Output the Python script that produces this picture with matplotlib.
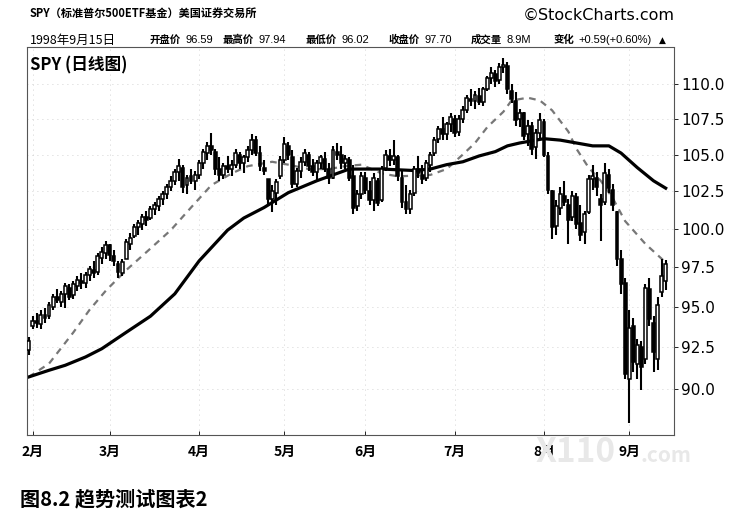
import matplotlib
matplotlib.use("Agg")
import matplotlib.pyplot as plt
from matplotlib.ticker import FixedLocator, NullLocator
import pandas as pd

plt.rcParams['font.family'] = ['Noto Sans CJK SC', 'DejaVu Sans']

# SPY 日线 1998-01-30 .. 1998-09-15
holidays = ['1998-02-16', '1998-04-10', '1998-05-25', '1998-07-03', '1998-09-07']
dates = pd.bdate_range('1998-01-30', '1998-09-15', freq='C', holidays=holidays)

opens = [92.3, 93.8, 94.1, 93.9, 94.5, 94.4, 95.0, 95.6, 95.3, 95.8,
         96.2, 95.7, 96.3, 96.6, 96.5, 97.0, 97.3, 97.2, 98.1, 98.4,
         98.9, 98.2, 97.7, 97.1, 98.0, 99.0, 99.5, 100.1, 100.3, 100.8,
         100.7, 101.3, 101.5, 102.0, 102.3, 102.8, 103.2, 103.8, 104.1, 102.9,
         103.5, 103.2, 103.6, 104.4, 105.1, 105.6, 105.2, 104.0, 103.6, 104.2,
         104.0, 104.3, 105.0, 104.4, 104.8, 105.3, 106.0, 105.1, 104.1, 103.3,
         102.0, 102.4, 103.5, 104.6, 105.6, 104.8, 103.0, 103.9, 104.5, 105.0,
         104.2, 103.8, 104.4, 104.7, 104.0, 103.4, 105.2, 105.0, 104.4, 104.6,
         103.5, 101.5, 102.3, 103.4, 102.5, 101.9, 103.2, 101.9, 104.1, 104.9,
         104.6, 104.8, 103.4, 101.8, 101.3, 102.4, 104.0, 103.6, 103.4, 104.3,
         105.1, 106.1, 106.8, 106.4, 107.1, 107.5, 106.6, 107.5, 108.1, 108.9,
         108.8, 109.1, 108.7, 109.6, 110.4, 110.7, 110.3, 111.2, 111.3, 109.5,
         108.8, 107.5, 107.9, 106.4, 107.0, 105.5, 106.5, 107.3, 104.9, 102.5,
         100.2, 101.4, 102.2, 101.6, 100.8, 102.1, 100.4, 99.8, 101.1, 103.3,
         103.4, 102.0, 101.8, 103.6, 102.6, 101.1, 98.0, 96.5, 90.6, 93.8,
         91.5, 92.5, 91.8, 96.1, 94.0, 91.8, 95.9, 96.59]
highs = [93.1, 94.4, 94.6, 94.8, 94.9, 95.3, 95.8, 96.1, 96.0, 96.5,
         96.4, 96.6, 96.9, 97.1, 97.2, 97.6, 97.9, 98.4, 98.8, 99.2,
         99.0, 98.6, 97.9, 98.0, 99.3, 99.7, 100.3, 100.6, 101.0, 101.2,
         101.5, 101.8, 102.2, 102.5, 103.0, 103.5, 104.0, 104.7, 104.3, 103.6,
         104.0, 103.9, 104.6, 105.4, 105.9, 106.5, 105.4, 104.8, 104.4, 104.9,
         104.6, 105.4, 105.2, 105.0, 105.6, 106.4, 106.3, 105.6, 104.6, 103.3,
         102.9, 103.3, 104.9, 106.2, 105.9, 105.3, 104.1, 104.8, 105.4, 105.2,
         104.7, 104.6, 105.0, 105.2, 104.4, 105.6, 105.8, 105.6, 105.0, 104.8,
         104.3, 102.6, 103.8, 103.8, 103.2, 103.7, 103.4, 104.2, 105.3, 105.4,
         106.0, 105.0, 103.9, 102.9, 102.6, 104.2, 104.9, 104.3, 104.6, 105.2,
         106.2, 107.0, 107.6, 107.3, 107.9, 107.8, 107.8, 108.4, 109.2, 109.6,
         109.5, 109.7, 109.8, 110.6, 111.2, 111.0, 111.5, 111.9, 111.6, 110.0,
         109.4, 108.2, 108.0, 107.4, 107.3, 106.8, 107.9, 107.5, 105.2, 102.6,
         101.9, 102.8, 103.2, 102.0, 102.5, 102.4, 101.6, 101.2, 103.6, 104.3,
         103.8, 102.3, 104.4, 104.0, 103.0, 101.2, 98.6, 96.8, 94.8, 94.3,
         93.0, 92.9, 96.4, 96.8, 94.4, 95.6, 98.0, 97.94]
lows = [92.0, 93.6, 93.7, 93.6, 94.0, 94.2, 94.8, 95.2, 95.0, 94.9,
        95.4, 95.5, 96.0, 96.1, 96.2, 96.6, 96.8, 97.0, 97.7, 98.0,
        97.9, 97.6, 96.8, 96.9, 98.0, 98.6, 99.4, 99.6, 99.9, 100.2,
        100.6, 100.9, 101.2, 101.6, 102.0, 102.5, 102.9, 103.2, 102.4, 102.3,
        103.0, 102.6, 103.3, 104.0, 104.6, 105.0, 103.6, 103.2, 103.3, 103.7,
        103.5, 104.1, 104.0, 103.7, 104.5, 105.0, 104.9, 103.9, 103.6, 101.6,
        101.1, 101.6, 103.3, 104.4, 104.6, 102.7, 102.8, 103.4, 104.2, 103.9,
        103.5, 103.2, 104.0, 103.8, 103.0, 103.3, 104.6, 104.0, 104.0, 103.2,
        101.0, 101.2, 102.0, 102.3, 101.6, 101.2, 101.5, 101.8, 103.9, 104.2,
        104.3, 103.2, 101.4, 101.0, 101.0, 102.2, 103.4, 103.0, 103.2, 103.8,
        104.9, 105.8, 106.0, 106.0, 106.6, 106.2, 106.3, 107.2, 107.9, 108.4,
        108.2, 108.5, 108.4, 109.5, 110.0, 109.8, 110.0, 110.8, 109.3, 108.6,
        107.0, 106.9, 106.0, 105.6, 105.0, 104.7, 106.0, 104.8, 102.3, 99.3,
        99.6, 100.9, 101.5, 99.0, 100.5, 100.0, 99.2, 99.0, 101.0, 102.6,
        102.2, 99.2, 101.6, 102.4, 101.2, 97.6, 95.8, 90.6, 88.0, 91.0,
        90.6, 89.9, 91.5, 93.8, 91.0, 91.1, 95.6, 96.02]
closes = [92.9, 94.1, 94.0, 94.5, 94.3, 95.1, 95.6, 95.4, 95.8, 96.3,
          95.6, 96.4, 96.7, 96.5, 97.0, 97.4, 97.1, 98.2, 98.5, 98.9,
          98.3, 97.9, 97.2, 97.8, 99.1, 99.4, 100.1, 100.4, 100.8, 100.6,
          101.3, 101.6, 102.0, 102.3, 102.8, 103.2, 103.8, 104.2, 102.8, 103.4,
          103.2, 103.6, 104.4, 105.2, 105.6, 105.3, 104.0, 103.6, 104.2, 104.0,
          104.3, 105.1, 104.4, 104.8, 105.3, 106.0, 105.1, 104.2, 103.9, 102.0,
          102.5, 103.1, 104.6, 105.7, 105.0, 103.0, 103.9, 104.5, 105.1, 104.2,
          103.8, 104.4, 104.8, 104.0, 103.4, 105.3, 105.0, 104.4, 104.7, 103.4,
          101.4, 102.3, 103.5, 102.6, 101.9, 103.4, 101.7, 104.0, 105.0, 104.6,
          104.9, 103.5, 101.8, 101.3, 102.3, 104.0, 103.7, 103.3, 104.4, 105.0,
          106.0, 106.8, 106.4, 107.1, 107.6, 106.5, 107.5, 108.1, 109.0, 108.8,
          109.2, 108.7, 109.6, 110.4, 110.8, 110.2, 111.2, 111.4, 109.6, 108.9,
          107.4, 107.9, 106.3, 107.0, 105.4, 106.5, 107.4, 105.0, 102.6, 100.1,
          101.5, 102.3, 101.8, 100.6, 102.2, 100.3, 99.6, 101.0, 103.3, 103.5,
          102.8, 101.6, 103.7, 102.7, 101.6, 98.0, 96.4, 90.9, 93.7, 91.6,
          92.6, 91.3, 96.2, 94.2, 92.2, 95.1, 96.9, 97.70]

# 移动平均线（按交易日序号取样）
ma20_idx = [0, 5, 11, 15, 19, 24, 30, 35, 40, 45, 50, 54, 60, 64, 69, 74, 78, 82,
            87, 91, 99, 103, 107, 110, 113, 117, 119, 123, 126, 129, 133, 135,
            138, 141, 144, 147, 152, 157]
ma20_val = [90.7, 91.5, 93.4, 94.8, 96.0, 97.3, 98.7, 99.9, 101.4, 102.9, 103.7,
            104.2, 104.5, 104.3, 104.0, 104.0, 104.2, 104.3, 103.7, 103.5, 103.6,
            104.0, 105.0, 105.8, 106.9, 108.0, 108.8, 109.0, 108.8, 108.1, 106.6,
            105.4, 104.1, 103.2, 102.0, 100.5, 99.0, 97.8]
ma50_idx = [0, 5, 9, 14, 18, 24, 30, 36, 42, 49, 53, 58, 64, 71, 76, 79, 87, 95,
            99, 103, 107, 111, 115, 118, 121, 123, 127, 131, 135, 139, 143, 146,
            150, 154, 157]
ma50_val = [90.7, 91.1, 91.4, 91.9, 92.4, 93.4, 94.4, 95.8, 97.9, 99.9, 100.7,
            101.4, 102.4, 103.2, 103.7, 104.0, 104.0, 103.9, 104.0, 104.3, 104.5,
            104.9, 105.2, 105.6, 105.8, 105.9, 106.1, 106.0, 105.8, 105.6, 105.6,
            105.1, 104.1, 103.2, 102.7]

y_ticks = [90.0, 92.5, 95.0, 97.5, 100.0, 102.5, 105.0, 107.5, 110.0]

x = list(range(len(dates)))
# 每月第一个交易日
month_pos = [i for i in x if i == 0 or dates[i].month != dates[i - 1].month][1:]
month_lab = [f"{dates[i].month}月" for i in month_pos]

fig = plt.figure(figsize=(7.33, 5.16), dpi=100)
ax = fig.add_axes([27 / 733, 1 - 435 / 516, 647 / 733, 388 / 516])

# K线
up = [c >= o for o, c in zip(opens, closes)]
ax.vlines(x, lows, highs, color='black', linewidth=1.5, zorder=3)
bottoms = [min(o, c) for o, c in zip(opens, closes)]
heights = [max(abs(c - o), 0.1) for o, c in zip(opens, closes)]
ax.bar(x, heights, bottom=bottoms, width=0.72,
       color=['white' if u else 'black' for u in up],
       edgecolor='black', linewidth=1.1, zorder=4)

ax.plot(ma20_idx, ma20_val, color='#777777', linewidth=1.6,
        linestyle=(0, (3, 2.5)), zorder=2)
ax.plot(ma50_idx, ma50_val, color='black', linewidth=2.3, zorder=2,
        solid_joinstyle='round')

ax.set_yscale('log')
ax.set_ylim(87.3, 112.7)
ax.set_xlim(-0.43, 159.05)
ax.yaxis.set_major_locator(FixedLocator(y_ticks))
ax.yaxis.set_minor_locator(NullLocator())
ax.set_yticklabels([f"{v:.1f}" for v in y_ticks], family='DejaVu Sans', fontsize=11)
ax.yaxis.tick_right()
ax.tick_params(axis='y', length=3, width=0.6, pad=2, colors='black')

ax.set_xticks(month_pos)
ax.set_xticklabels(month_lab, fontsize=10, fontweight='bold')
ax.tick_params(axis='x', direction='in', length=3, width=0.6, pad=7)

ax.grid(True, color='#c4c4c4', linewidth=0.6, linestyle=(0, (1, 5)))
for s in ax.spines.values():
    s.set_linestyle((0, (1, 1)))
    s.set_color('#555555')
    s.set_linewidth(0.8)

ax.text(0.005, 0.975, "SPY (日线图)", transform=ax.transAxes, fontsize=12,
        fontweight='bold', va='top', ha='left')

# 顶部信息
fig.text(30 / 733, 1 - 13 / 516, "SPY（标准普尔500ETF基金）美国证券交易所",
         fontsize=8, fontweight='bold', va='center', ha='left')
fig.text(675 / 733, 1 - 15 / 516, "©StockCharts.com", fontsize=11.5,
         family='DejaVu Sans', va='center', ha='right')
fig.text(30 / 733, 1 - 40 / 516, "1998年9月15日", fontsize=9, va='center', ha='left')

info = [("开盘价", "96.59", 150), ("最高价", "97.94", 223), ("最低价", "96.02", 306),
        ("收盘价", "97.70", 389), ("成交量", "8.9M", 471), ("变化", "+0.59(+0.60%)", 554)]
for lab, val, px in info:
    fig.text(px / 733, 1 - 40 / 516, lab, fontsize=7.5, fontweight='bold',
             va='center', ha='left')
    fig.text((px + 4 + 10.4 * len(lab)) / 733, 1 - 40 / 516, val, fontsize=8,
             family='Liberation Sans', va='center', ha='left')
fig.text(662 / 733, 1 - 40 / 516, "▲", fontsize=6.5, family='DejaVu Sans',
         va='center', ha='center')

# 水印
fig.text(535 / 733, 1 - 452 / 516, "X110", fontsize=24, fontweight='bold',
         color='#e8e8e8', va='center', ha='left', zorder=10)
fig.text(640 / 733, 1 - 456 / 516, ".com", fontsize=15, fontweight='bold',
         color='#e8e8e8', va='center', ha='left', zorder=10)

fig.text(20 / 733, 1 - 499 / 516, "图8.2 趋势测试图表2", fontsize=14.5,
         fontweight='bold', va='center', ha='left')

fig.savefig('out.png', dpi=100)
